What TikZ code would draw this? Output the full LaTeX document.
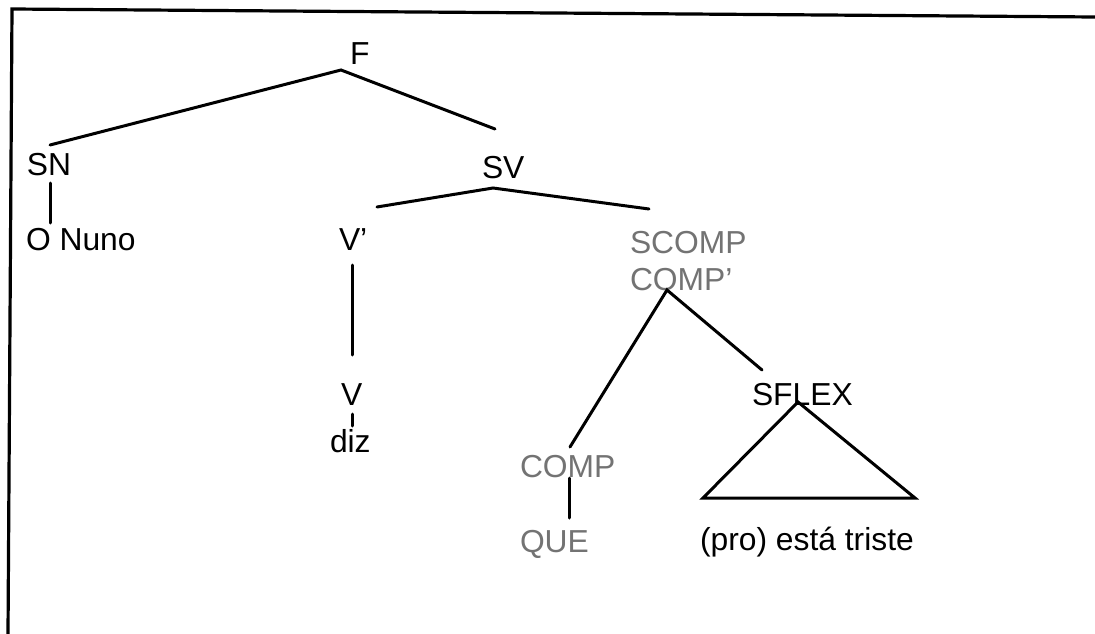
\documentclass[tikz,border=0pt]{standalone}
\usepackage{fontspec}
\setmainfont{Liberation Sans}
\begin{document}
\begin{tikzpicture}[x=1pt,y=-1pt,
  lbl/.style={inner sep=0pt,outer sep=0pt,anchor=base west,font=\fontsize{31.8}{38}\selectfont},
  glbl/.style={lbl,text=black!55},
  edge/.style={line width=3pt,line cap=round,black},
  frame/.style={line width=3.2pt,black}]
\useasboundingbox (0,0) rectangle (1095,634);
% frame
\coordinate (fb) at (8,634);
\coordinate (ftl) at (12,9);
\coordinate (ftr) at (1095,17);
\draw[frame] (fb) -- (ftl) -- (ftr);
% labels
\node[lbl] (F) at (350,65) {F};
\node[lbl] (SN) at (27,175) {SN};
\node[lbl] (ONuno) at (26,250) {O Nuno};
\node[lbl] (SV) at (482,178) {SV};
\node[lbl] (Vbar) at (339,250) {V’};
\node[lbl] (V) at (341,405) {V};
\node[lbl] (diz) at (330,452) {diz};
\node[glbl] (SCOMP) at (630,253) {SCOMP};
\node[glbl] (COMPbar) at (630,290) {COMP’};
\node[glbl] (COMP) at (520,477) {COMP};
\node[glbl] (QUE) at (520,552) {QUE};
\node[lbl] (SFLEX) at (752,405) {SFLEX};
\node[lbl] (pro) at (700,550) {(pro) está triste};
% connector end points
\coordinate (Fa) at (341,70);
\coordinate (SNt) at (50,145);
\coordinate (SVt) at (495,129);
\coordinate (SNb) at (50,183);
\coordinate (ONt) at (50,223);
\coordinate (SVa) at (493,188);
\coordinate (Vbt) at (377,207);
\coordinate (SCt) at (649,209);
\coordinate (Vbb) at (352,265);
\coordinate (Vt) at (352,355);
\coordinate (Vb) at (352,414);
\coordinate (dizt) at (352,426);
\coordinate (Ca) at (667,290);
\coordinate (COMPt) at (570,447);
\coordinate (SFt) at (762,370);
\coordinate (COMPb) at (569,478);
\coordinate (QUEt) at (569,518);
\coordinate (Ta) at (798,402);
\coordinate (Tl) at (703,498);
\coordinate (Tr) at (915,498);
% connectors
\draw[edge] (SNt) -- (Fa) -- (SVt);
\draw[edge] (SNb) -- (ONt);
\draw[edge] (Vbt) -- (SVa) -- (SCt);
\draw[edge] (Vbb) -- (Vt);
\draw[edge] (Vb) -- (dizt);
\draw[edge] (COMPt) -- (Ca) -- (SFt);
\draw[edge] (COMPb) -- (QUEt);
\draw[edge,line join=miter] (Ta) -- (Tl) -- (Tr) -- cycle;
\end{tikzpicture}
\end{document}
